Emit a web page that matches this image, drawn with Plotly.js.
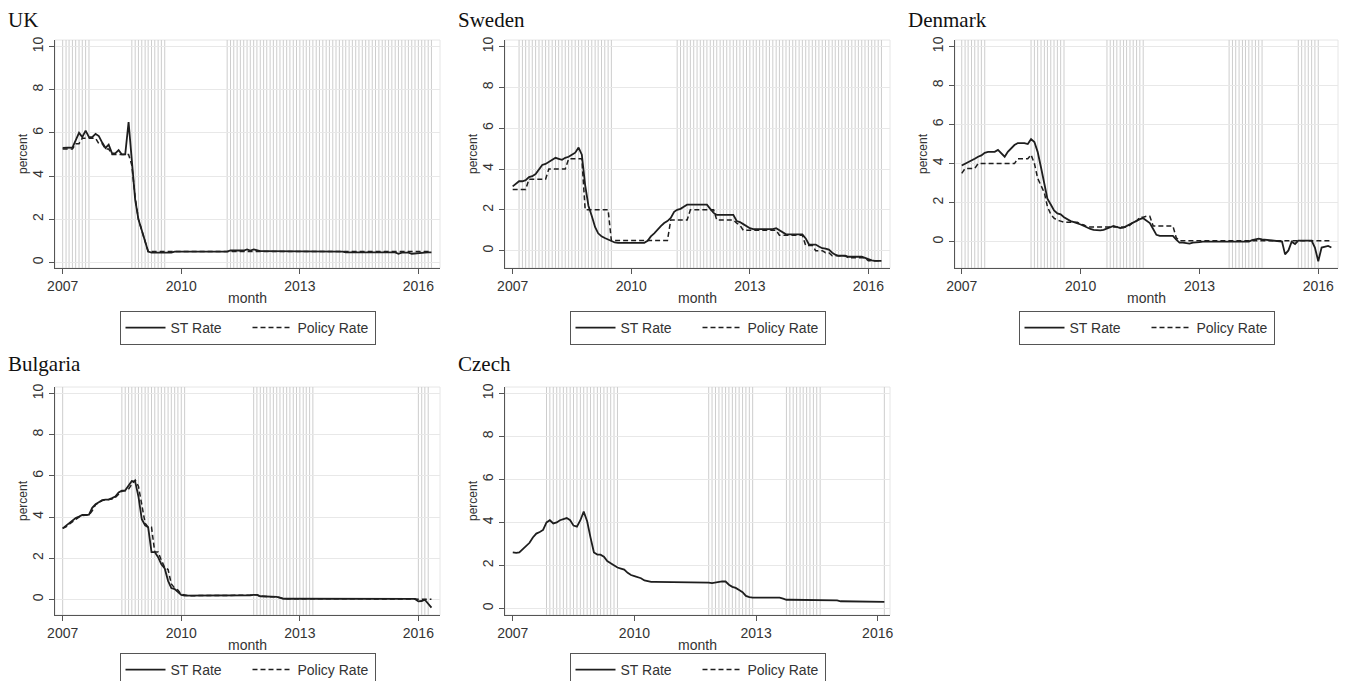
<!DOCTYPE html>
<html><head><meta charset="utf-8">
<script src="https://cdn.plot.ly/plotly-3.0.1.min.js"></script>
<style>html,body{margin:0;padding:0;background:#fff;}#chart{width:1348px;height:681px;}</style>
</head><body><div id="chart"></div>
<script>
// ---------- data ----------
const yearTickVals = ['2007-01-01','2010-01-01','2013-01-01','2016-01-01'];
const yearTickText = ['2007','2010','2013','2016'];
const yTickVals = [0,2,4,6,8,10];
const seriesNames = ['ST Rate','Policy Rate'];
const panelTitles = ['UK','Sweden','Denmark','Bulgaria','Czech'];
const firstMonth = '2007-01';

const ukST = [
 5.30,5.30,5.30,5.32,5.65,6.00,5.80,6.10,5.80,5.80,5.95,5.85,
 5.55,5.30,5.45,5.05,5.05,5.20,5.00,5.00,6.50,4.80,2.90,2.00,
 1.50,0.95,0.50,0.45,0.45,0.45,0.45,0.45,0.45,0.45,0.50,0.50,
 0.50,0.50,0.50,0.50,0.50,0.50,0.50,0.50,0.50,0.50,0.50,0.50,
 0.50,0.50,0.50,0.55,0.55,0.55,0.55,0.55,0.60,0.55,0.60,0.55,
 0.52,0.52,0.52,0.52,0.52,0.52,0.52,0.52,0.52,0.52,0.52,0.52,
 0.52,0.50,0.50,0.50,0.50,0.50,0.50,0.50,0.50,0.50,0.50,0.50,
 0.50,0.50,0.46,0.46,0.46,0.46,0.46,0.46,0.46,0.46,0.46,0.46,
 0.46,0.46,0.46,0.46,0.46,0.46,0.40,0.45,0.45,0.45,0.40,0.42,
 0.43,0.45,0.45,0.46,0.46];
const ukPolicy = [
 5.25,5.25,5.25,5.25,5.50,5.50,5.75,5.75,5.75,5.75,5.75,5.50,
 5.50,5.25,5.25,5.00,5.00,5.00,5.00,5.00,5.00,4.50,3.00,2.00,
 1.50,1.00,0.50,0.50,0.50,0.50,0.50,0.50,0.50,0.50,0.50,0.50,
 0.50,0.50,0.50,0.50,0.50,0.50,0.50,0.50,0.50,0.50,0.50,0.50,
 0.50,0.50,0.50,0.50,0.50,0.50,0.50,0.50,0.50,0.50,0.50,0.50,
 0.50,0.50,0.50,0.50,0.50,0.50,0.50,0.50,0.50,0.50,0.50,0.50,
 0.50,0.50,0.50,0.50,0.50,0.50,0.50,0.50,0.50,0.50,0.50,0.50,
 0.50,0.50,0.50,0.50,0.50,0.50,0.50,0.50,0.50,0.50,0.50,0.50,
 0.50,0.50,0.50,0.50,0.50,0.50,0.50,0.50,0.50,0.50,0.50,0.50,
 0.50,0.50,0.50,0.50,0.50];

const seST = [
 3.15,3.30,3.40,3.40,3.45,3.60,3.65,3.75,3.95,4.20,4.25,4.35,
 4.45,4.55,4.50,4.45,4.55,4.60,4.70,4.80,5.05,4.70,3.20,2.20,
 1.70,1.15,0.85,0.70,0.62,0.55,0.45,0.40,0.38,0.38,0.38,0.38,
 0.38,0.38,0.38,0.38,0.38,0.48,0.70,0.85,1.05,1.20,1.35,1.45,
 1.60,1.90,2.00,2.05,2.15,2.25,2.25,2.25,2.25,2.25,2.25,2.25,
 2.05,1.85,1.75,1.75,1.75,1.75,1.75,1.75,1.45,1.40,1.30,1.20,
 1.10,1.05,1.05,1.05,1.05,1.05,1.05,1.05,1.10,1.00,0.90,0.80,
 0.80,0.80,0.80,0.80,0.80,0.60,0.30,0.30,0.30,0.20,0.12,0.10,
 0.05,-0.10,-0.20,-0.25,-0.25,-0.25,-0.30,-0.30,-0.30,-0.30,-0.30,-0.35,
 -0.42,-0.48,-0.50,-0.50,-0.50];
const sePolicy = [
 3.00,3.00,3.00,3.00,3.00,3.50,3.50,3.50,3.50,3.50,3.50,4.00,
 4.00,4.00,4.00,4.00,4.00,4.50,4.50,4.50,4.50,4.50,2.00,2.00,
 2.00,2.00,2.00,2.00,2.00,2.00,0.50,0.50,0.50,0.50,0.50,0.50,
 0.50,0.50,0.50,0.50,0.50,0.50,0.50,0.50,0.50,0.50,0.50,0.50,
 1.50,1.50,1.50,1.50,1.50,1.50,2.00,2.00,2.00,2.00,2.00,2.00,
 2.00,2.00,1.50,1.50,1.50,1.50,1.50,1.50,1.35,1.25,1.00,1.00,
 1.00,1.00,1.00,1.00,1.00,1.00,1.00,1.00,1.00,0.75,0.75,0.75,
 0.75,0.75,0.75,0.75,0.75,0.25,0.25,0.25,0.00,0.00,0.00,-0.10,
 -0.10,-0.25,-0.25,-0.25,-0.25,-0.25,-0.35,-0.35,-0.35,-0.35,-0.35,-0.35,
 -0.50,-0.50,-0.50,-0.50,-0.50];

const dkST = [
 3.90,3.98,4.06,4.15,4.25,4.35,4.42,4.55,4.60,4.60,4.60,4.70,
 4.55,4.35,4.60,4.80,4.95,5.05,5.05,5.05,5.00,5.25,5.10,4.60,
 3.80,2.90,2.20,1.90,1.60,1.45,1.40,1.25,1.15,1.05,1.00,0.95,
 0.88,0.80,0.72,0.65,0.60,0.58,0.58,0.60,0.68,0.75,0.80,0.75,
 0.70,0.72,0.80,0.90,1.00,1.05,1.15,1.20,1.05,0.95,0.65,0.35,
 0.30,0.30,0.30,0.30,0.30,0.10,-0.05,-0.05,-0.08,-0.10,-0.05,-0.05,
 -0.02,0.00,0.00,0.00,0.00,0.00,0.00,0.00,0.00,0.00,0.00,0.00,
 0.00,0.00,0.00,0.00,0.08,0.10,0.15,0.12,0.10,0.10,0.08,0.05,
 0.02,0.00,-0.65,-0.45,0.00,-0.12,0.05,0.05,0.05,0.05,0.05,-0.30,
 -1.00,-0.30,-0.25,-0.22,-0.30];
const dkPolicy = [
 3.50,3.75,3.75,3.75,3.75,4.00,4.00,4.00,4.00,4.00,4.00,4.00,
 4.00,4.00,4.00,4.00,4.00,4.25,4.25,4.25,4.25,4.45,4.00,3.25,
 2.90,2.50,1.80,1.40,1.20,1.10,1.05,1.00,1.00,1.00,1.00,1.00,
 0.90,0.85,0.75,0.75,0.75,0.75,0.75,0.75,0.75,0.75,0.75,0.75,
 0.75,0.75,0.75,0.85,1.00,1.05,1.25,1.25,1.30,1.30,0.80,0.80,
 0.80,0.80,0.80,0.80,0.80,0.20,0.05,0.05,0.05,0.05,0.05,0.05,
 0.05,0.05,0.05,0.05,0.05,0.05,0.05,0.05,0.05,0.05,0.05,0.05,
 0.05,0.05,0.05,0.05,0.05,0.05,0.05,0.05,0.05,0.05,0.05,0.05,
 0.05,0.05,0.05,0.05,0.05,0.05,0.05,0.05,0.05,0.05,0.05,0.05,
 0.05,0.05,0.05,0.05,0.05];

const bgST = [
 3.45,3.58,3.72,3.82,3.95,4.02,4.10,4.10,4.12,4.45,4.62,4.72,
 4.82,4.85,4.85,4.92,5.00,5.20,5.28,5.30,5.50,5.75,5.72,5.00,
 3.90,3.60,3.50,2.30,2.30,2.05,1.70,1.50,0.90,0.55,0.50,0.35,
 0.22,0.18,0.18,0.18,0.18,0.18,0.18,0.18,0.18,0.18,0.18,0.18,
 0.18,0.18,0.18,0.20,0.20,0.20,0.20,0.20,0.20,0.20,0.22,0.22,
 0.15,0.15,0.15,0.15,0.15,0.12,0.08,0.03,0.03,0.03,0.03,0.03,
 0.01,0.01,0.01,0.01,0.01,0.01,0.01,0.01,0.01,0.01,0.01,0.01,
 0.04,0.04,0.04,0.04,0.04,0.04,0.04,0.04,0.04,0.04,0.04,0.04,
 0.02,0.02,0.02,0.02,0.02,0.02,0.02,0.02,0.02,0.02,0.02,0.02,
 -0.10,-0.08,-0.02,-0.20,-0.40];
const bgPolicy = [
 3.45,3.52,3.65,3.78,3.90,4.00,4.08,4.10,4.10,4.30,4.60,4.70,
 4.80,4.83,4.85,4.88,4.95,5.10,5.25,5.28,5.35,5.60,5.80,5.50,
 4.50,3.70,3.50,3.50,2.30,2.30,1.90,1.55,1.45,0.75,0.55,0.45,
 0.25,0.20,0.18,0.18,0.18,0.18,0.18,0.18,0.18,0.18,0.18,0.18,
 0.18,0.18,0.18,0.20,0.20,0.20,0.20,0.20,0.20,0.20,0.22,0.22,
 0.15,0.15,0.15,0.15,0.15,0.12,0.08,0.03,0.03,0.03,0.03,0.03,
 0.01,0.01,0.01,0.01,0.01,0.01,0.01,0.01,0.01,0.01,0.01,0.01,
 0.04,0.04,0.04,0.04,0.04,0.04,0.04,0.04,0.04,0.04,0.04,0.04,
 0.02,0.02,0.02,0.02,0.02,0.02,0.02,0.02,0.02,0.02,0.02,0.02,
 0.00,0.00,0.00,0.00,0.00];

const czST = [
 2.60,2.58,2.60,2.75,2.90,3.05,3.30,3.48,3.55,3.65,4.00,4.10,
 3.95,4.00,4.10,4.15,4.20,4.10,3.85,3.80,4.10,4.50,4.05,3.30,
 2.60,2.50,2.50,2.40,2.20,2.10,2.00,1.90,1.85,1.80,1.65,1.55,
 1.50,1.45,1.40,1.30,1.25,1.23,1.23,1.23,1.23,1.23,1.23,1.23,
 1.23,1.23,1.20,1.20,1.20,1.20,1.20,1.20,1.20,1.20,1.20,1.17,
 1.20,1.25,1.25,1.25,1.10,1.00,0.95,0.85,0.75,0.58,0.52,0.50,
 0.50,0.50,0.50,0.50,0.50,0.50,0.50,0.50,0.45,0.40,0.40,0.40,
 0.40,0.40,0.40,0.40,0.40,0.40,0.40,0.40,0.37,0.37,0.37,0.37,
 0.37,0.33,0.33,0.33,0.33,0.33,0.30,0.30,0.30,0.30,0.30,0.30,
 0.30,0.30,0.30];
const czPolicy = [null];   // no policy-rate observations for Czech

// months marked with vertical reference lines: [first, last]
const ukMarked = [['2007-01','2007-09'],['2008-10','2009-08'],['2011-03','2016-05']];
const seMarked = [['2007-03','2009-07'],['2011-03','2016-05']];
const dkMarked = [['2007-01','2007-08'],['2008-10','2009-08'],['2010-09','2011-08'],['2013-10','2014-08'],['2015-07','2016-01']];
const bgMarked = [['2007-01','2007-01'],['2008-07','2010-02'],['2011-11','2013-05'],['2016-01','2016-04']];
const czMarked = [['2007-11','2009-08'],['2011-11','2012-12'],['2013-10','2014-08'],['2016-03','2016-03']];

// ---------- helpers ----------
function monthList(start, n){
  let [y,m] = start.split('-').map(Number); const out=[];
  for(let i=0;i<n;i++){ out.push(y+'-'+String(m).padStart(2,'0')+'-01'); m++; if(m>12){m=1;y++;} }
  return out;
}
function monthsBetween(a,b){
  let [y,m]=a.split('-').map(Number); const [y2,m2]=b.split('-').map(Number); const out=[];
  while(y<y2 || (y===y2 && m<=m2)){ out.push(y+'-'+String(m).padStart(2,'0')+'-01'); m++; if(m>12){m=1;y++;} }
  return out;
}

// ---------- layout ----------
const W=1348, H=681;
const colPx=[[55,440],[505,890],[955,1338]];
const rowPx=[[40,268],[387,615]];
const legendGap=[43,38];
const panels=[
 {st:ukST, pol:ukPolicy, marked:ukMarked, col:0,row:0, yr:[-0.26,10.30], xr:['2006-10-22','2016-07-19']},
 {st:seST, pol:sePolicy, marked:seMarked, col:1,row:0, yr:[-0.85,10.32], xr:['2006-10-22','2016-07-19']},
 {st:dkST, pol:dkPolicy, marked:dkMarked, col:2,row:0, yr:[-1.35,10.33], xr:['2006-10-31','2016-07-01']},
 {st:bgST, pol:bgPolicy, marked:bgMarked, col:0,row:1, yr:[-0.76,10.32], xr:['2006-10-22','2016-07-19']},
 {st:czST, pol:czPolicy, marked:czMarked, col:1,row:1, yr:[-0.31,10.30], xr:['2006-10-23','2016-04-21']}
];

const traces=[], shapes=[], annotations=[];
const layout={width:W,height:H,margin:{l:0,r:0,t:0,b:0,autoexpand:false},paper_bgcolor:'#fff',plot_bgcolor:'#fff',
  font:{family:'"Liberation Sans", Arial, sans-serif',size:14,color:'#333'}, showlegend:true};
const axisColor='#555';

panels.forEach((p,i)=>{
  const k = i===0?'':String(i+1);
  const xa='x'+k, ya='y'+k, leg='legend'+k;
  const [l,r]=colPx[p.col], [t,b]=rowPx[p.row];
  const xs = monthList(firstMonth, p.st.length);
  traces.push({type:'scatter',mode:'lines',name:seriesNames[0],x:xs,y:p.st,xaxis:xa,yaxis:ya,legend:leg,
    line:{color:'#1e1e1e',width:1.8},hoverinfo:'skip'});
  traces.push({type:'scatter',mode:'lines',name:seriesNames[1],x:monthList(firstMonth,p.pol.length),y:p.pol,xaxis:xa,yaxis:ya,legend:leg,
    line:{color:'#1e1e1e',width:1.5,dash:'5px,3px'},hoverinfo:'skip'});
  layout['xaxis'+k]={domain:[l/W,r/W],anchor:ya,type:'date',range:p.xr,tickmode:'array',tickvals:yearTickVals,ticktext:yearTickText,
    ticks:'outside',ticklen:5,tickcolor:axisColor,showline:true,linecolor:axisColor,linewidth:1,showgrid:false,zeroline:false,
    tickfont:{size:14,color:'#333'},title:{text:'month',font:{size:14,color:'#333'},standoff:0},fixedrange:true};
  layout['yaxis'+k]={domain:[1-b/H,1-t/H],anchor:xa,range:p.yr,tickmode:'array',tickvals:yTickVals,tickangle:-90,
    ticks:'outside',ticklen:5,tickcolor:axisColor,showline:true,linecolor:axisColor,linewidth:1,showgrid:true,gridcolor:'#e8e8e8',gridwidth:1,zeroline:false,
    tickfont:{size:14,color:'#333'},title:{text:'percent',font:{size:12,color:'#333'},standoff:0},fixedrange:true};
  layout[leg]={x:(l+r)/2/W,y:1-(b+legendGap[p.row])/H,xanchor:'center',yanchor:'top',orientation:'h',bgcolor:'#fff',
    bordercolor:'#555',borderwidth:1,font:{size:14,color:'#333'},itemwidth:40,entrywidth:72};
  // faint outer frame of plot region
  shapes.push({type:'rect',xref:xa+' domain',yref:ya+' domain',x0:0,x1:1,y0:0,y1:1,line:{color:'#e6e6e6',width:1},layer:'below'});
  p.marked.forEach(([a,bm])=>{
    monthsBetween(a,bm).forEach(m=>{
      shapes.push({type:'line',xref:xa,yref:ya+' domain',x0:m,x1:m,y0:0,y1:1,line:{color:'#cdcdcd',width:1},layer:'below'});
    });
  });
  const titleY = p.row===0 ? 19.5 : 364;
  annotations.push({text:panelTitles[i],xref:'paper',yref:'paper',x:(l-49)/W,y:1-titleY/H,xanchor:'left',yanchor:'middle',
    showarrow:false,font:{family:'"Liberation Serif","Times New Roman",serif',size:21,color:'#111'}});
});
layout.shapes=shapes; layout.annotations=annotations;
Plotly.newPlot('chart',traces,layout,{displayModeBar:false,staticPlot:true});
</script></body></html>
